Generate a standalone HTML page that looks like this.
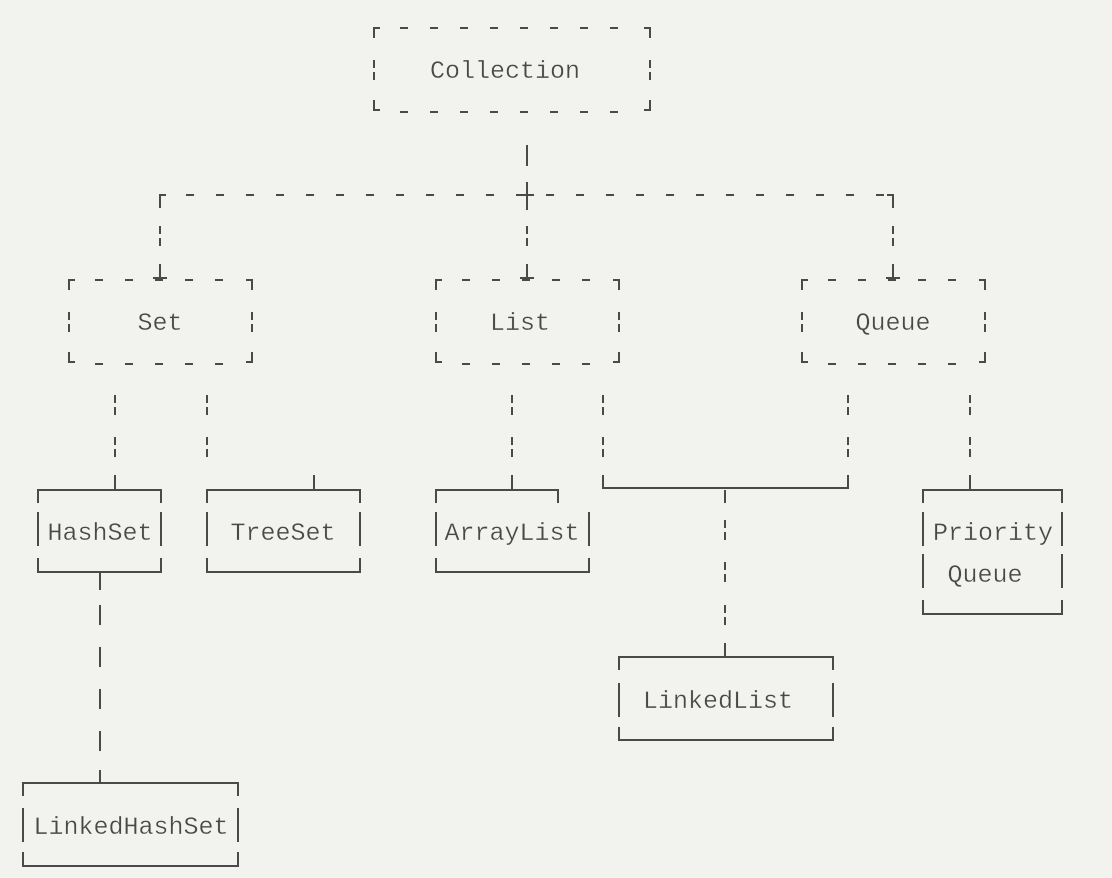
<!DOCTYPE html>
<html><head><meta charset="utf-8"><style>
html,body{margin:0;padding:0;background:#f2f2ee;}
svg{display:block}
text{font-family:"Liberation Mono",monospace;font-size:25px;fill:#484848;text-anchor:middle}
</style></head><body>
<svg width="1112" height="878" viewBox="0 0 1112 878" xmlns="http://www.w3.org/2000/svg">
<g stroke="#4a4a4a" stroke-width="2" fill="none">
<path d="M374,38V28H380M644,28H650V38M374,100V110H380M644,110H650V100"/>
<line x1="400" y1="28" x2="640" y2="28" stroke-dasharray="8,22"/>
<line x1="400" y1="112" x2="640" y2="112" stroke-dasharray="8,22"/>
<line x1="374" y1="60" x2="374" y2="81" stroke-dasharray="8,4"/>
<line x1="650" y1="60" x2="650" y2="81" stroke-dasharray="8,4"/>
<path d="M69,290V280H75M246,280H252V290M69,352V362H75M246,362H252V352"/>
<line x1="95" y1="280" x2="240" y2="280" stroke-dasharray="8,22"/>
<line x1="95" y1="364" x2="240" y2="364" stroke-dasharray="8,22"/>
<line x1="69" y1="312" x2="69" y2="333" stroke-dasharray="8,4"/>
<line x1="252" y1="312" x2="252" y2="333" stroke-dasharray="8,4"/>
<path d="M436,290V280H442M613,280H619V290M436,352V362H442M613,362H619V352"/>
<line x1="462" y1="280" x2="607" y2="280" stroke-dasharray="8,22"/>
<line x1="462" y1="364" x2="607" y2="364" stroke-dasharray="8,22"/>
<line x1="436" y1="312" x2="436" y2="333" stroke-dasharray="8,4"/>
<line x1="619" y1="312" x2="619" y2="333" stroke-dasharray="8,4"/>
<path d="M802,290V280H808M979,280H985V290M802,352V362H808M979,362H985V352"/>
<line x1="828" y1="280" x2="973" y2="280" stroke-dasharray="8,22"/>
<line x1="828" y1="364" x2="973" y2="364" stroke-dasharray="8,22"/>
<line x1="802" y1="312" x2="802" y2="333" stroke-dasharray="8,4"/>
<line x1="985" y1="312" x2="985" y2="333" stroke-dasharray="8,4"/>
<line x1="527" y1="145" x2="527" y2="166"/>
<path d="M527,182V210"/>
<line x1="186" y1="195" x2="890" y2="195" stroke-dasharray="8,22"/>
<path d="M520,195H534"/>
<path d="M160,208V195H166M887,195H893V208"/>
<line x1="160" y1="226" x2="160" y2="249" stroke-dasharray="8,4"/>
<line x1="527" y1="226" x2="527" y2="249" stroke-dasharray="8,4"/>
<line x1="893" y1="226" x2="893" y2="249" stroke-dasharray="8,4"/>
<path d="M160,264V278H153M160,278H167M527,264V278H520M527,278H534M893,264V278H886M893,278H900"/>
<g stroke-dasharray="8,4">
<line x1="115" y1="395" x2="115" y2="416"/><line x1="115" y1="437" x2="115" y2="458"/>
<line x1="207" y1="395" x2="207" y2="416"/><line x1="207" y1="437" x2="207" y2="458"/>
<line x1="512" y1="395" x2="512" y2="416"/><line x1="512" y1="437" x2="512" y2="458"/>
<line x1="603" y1="395" x2="603" y2="416"/><line x1="603" y1="437" x2="603" y2="458"/>
<line x1="848" y1="395" x2="848" y2="416"/><line x1="848" y1="437" x2="848" y2="458"/>
<line x1="970" y1="395" x2="970" y2="416"/><line x1="970" y1="437" x2="970" y2="458"/>
<line x1="725" y1="520" x2="725" y2="541"/><line x1="725" y1="562" x2="725" y2="583"/><line x1="725" y1="605" x2="725" y2="626"/>
</g>
<path d="M115,475V490M314,475V490M512,475V490M970,475V490M725,643V657M100,770V783M100,572V590M725,490V503"/>
<path d="M603,475V488H848V475"/>
<line x1="100" y1="605" x2="100" y2="755" stroke-dasharray="20,22"/>
<path d="M38,503V490H161V503M38,512V546M161,512V546M38,558V572H161V558"/>
<path d="M207,503V490H360V503M207,512V546M360,512V546M207,558V572H360V558"/>
<path d="M436,503V490H558V503M436,512V546M589,512V546M436,558V572H589V558"/>
<path d="M923,503V490H1062V503M923,512V546M1062,512V546M923,554V588M1062,554V588M923,600V614H1062V600"/>
<path d="M619,670V657H833V670M619,683V717M833,683V717M619,727V740H833V727"/>
<path d="M23,796V783H238V796M23,808V842M238,808V842M23,852V866H238V852"/>
</g>
<g stroke="#f2f2ee" stroke-width="0.3">
<text x="505" y="78">Collection</text>
<text x="160" y="330">Set</text>
<text x="520" y="330">List</text>
<text x="893" y="330">Queue</text>
<text x="100" y="540">HashSet</text>
<text x="283" y="540">TreeSet</text>
<text x="512" y="540">ArrayList</text>
<text x="993" y="540">Priority</text>
<text x="985" y="582">Queue</text>
<text x="718" y="708">LinkedList</text>
<text x="131" y="834">LinkedHashSet</text>
</g>
</svg>
</body></html>
